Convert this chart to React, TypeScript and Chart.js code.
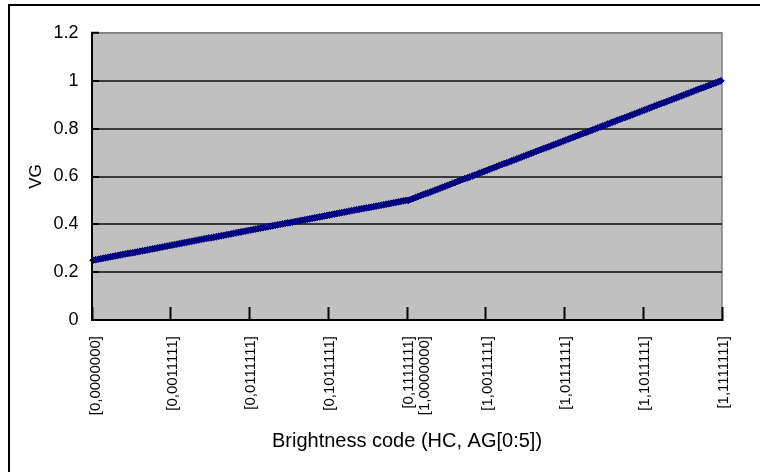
import React, { useEffect, useRef } from 'react';
import { Chart, registerables } from 'chart.js';

Chart.register(...registerables);

// VG for HC = 0, codes [0,0000000] .. [0,1111111]
const vgHc0 = [
  0.250, 0.252, 0.254, 0.256, 0.258, 0.260, 0.262, 0.264, 0.266, 0.268, 0.270, 0.272, 0.274, 0.276, 0.278, 0.280,
  0.281, 0.283, 0.285, 0.287, 0.289, 0.291, 0.293, 0.295, 0.297, 0.299, 0.301, 0.303, 0.305, 0.307, 0.309, 0.311,
  0.313, 0.315, 0.317, 0.319, 0.321, 0.323, 0.325, 0.327, 0.329, 0.331, 0.333, 0.335, 0.337, 0.339, 0.341, 0.343,
  0.344, 0.346, 0.348, 0.350, 0.352, 0.354, 0.356, 0.358, 0.360, 0.362, 0.364, 0.366, 0.368, 0.370, 0.372, 0.374,
  0.376, 0.378, 0.380, 0.382, 0.384, 0.386, 0.388, 0.390, 0.392, 0.394, 0.396, 0.398, 0.400, 0.402, 0.404, 0.406,
  0.407, 0.409, 0.411, 0.413, 0.415, 0.417, 0.419, 0.421, 0.423, 0.425, 0.427, 0.429, 0.431, 0.433, 0.435, 0.437,
  0.439, 0.441, 0.443, 0.445, 0.447, 0.449, 0.451, 0.453, 0.455, 0.457, 0.459, 0.461, 0.463, 0.465, 0.467, 0.469,
  0.470, 0.472, 0.474, 0.476, 0.478, 0.480, 0.482, 0.484, 0.486, 0.488, 0.490, 0.492, 0.494, 0.496, 0.498, 0.500,
];

// VG for HC = 1, codes [1,0000000] .. [1,1111111]
const vgHc1 = [
  0.500, 0.504, 0.508, 0.512, 0.516, 0.520, 0.524, 0.528, 0.531, 0.535, 0.539, 0.543, 0.547, 0.551, 0.555, 0.559,
  0.563, 0.567, 0.571, 0.575, 0.579, 0.583, 0.587, 0.591, 0.594, 0.598, 0.602, 0.606, 0.610, 0.614, 0.618, 0.622,
  0.626, 0.630, 0.634, 0.638, 0.642, 0.646, 0.650, 0.654, 0.657, 0.661, 0.665, 0.669, 0.673, 0.677, 0.681, 0.685,
  0.689, 0.693, 0.697, 0.701, 0.705, 0.709, 0.713, 0.717, 0.720, 0.724, 0.728, 0.732, 0.736, 0.740, 0.744, 0.748,
  0.752, 0.756, 0.760, 0.764, 0.768, 0.772, 0.776, 0.780, 0.783, 0.787, 0.791, 0.795, 0.799, 0.803, 0.807, 0.811,
  0.815, 0.819, 0.823, 0.827, 0.831, 0.835, 0.839, 0.843, 0.846, 0.850, 0.854, 0.858, 0.862, 0.866, 0.870, 0.874,
  0.878, 0.882, 0.886, 0.890, 0.894, 0.898, 0.902, 0.906, 0.909, 0.913, 0.917, 0.921, 0.925, 0.929, 0.933, 0.937,
  0.941, 0.945, 0.949, 0.953, 0.957, 0.961, 0.965, 0.969, 0.972, 0.976, 0.980, 0.984, 0.988, 0.992, 0.996, 1.000,
];

// Category codes [HC,AG bits]
const hcValues = [0, 1];
const agCodeCount = 128;
const categories: string[] = hcValues.flatMap((hc) =>
  Array.from({ length: agCodeCount }, (_, ag) => `[${hc},${ag.toString(2).padStart(7, '0')}]`)
);

// Which categories get a visible label
const xTickIndices = [0, 31, 63, 95, 127, 159, 191, 223, 255];
const xTickLabels: (string | string[])[] = [
  '[0,0000000]',
  '[0,0011111]',
  '[0,0111111]',
  '[0,1011111]',
  ['[0,1111111]', '[1,0000000]'],
  '[1,0011111]',
  '[1,0111111]',
  '[1,1011111]',
  '[1,1111111]',
];

const yMin = 0;
const yMax = 1.2;
const yStep = 0.2;

const xTitle = 'Brightness code (HC, AG[0:5])';
const yTitle = 'VG';

const FONT = '"Liberation Sans", Arial, sans-serif';

const plotBackground = {
  id: 'plotBackground',
  beforeDraw(chart: any) {
    const { ctx, chartArea: a } = chart;
    ctx.save();
    ctx.fillStyle = '#c0c0c0';
    ctx.fillRect(a.left, a.top, a.right - a.left, a.bottom - a.top);
    ctx.strokeStyle = '#808080';
    ctx.lineWidth = 1.5;
    ctx.strokeRect(a.left, a.top, a.right - a.left, a.bottom - a.top);
    ctx.restore();
  },
};

export default function App() {
  const canvasRef = useRef<HTMLCanvasElement | null>(null);

  useEffect(() => {
    if (!canvasRef.current) return;
    const chart = new Chart(canvasRef.current, {
      type: 'line',
      data: {
        labels: categories,
        datasets: [
          {
            label: 'VG',
            data: [...vgHc0, ...vgHc1],
            borderColor: '#000080',
            backgroundColor: '#000080',
            borderWidth: 2,
            pointStyle: 'rectRot',
            pointRadius: 3.4,
            pointBorderWidth: 1,
            pointBackgroundColor: '#000080',
            pointBorderColor: '#000080',
            tension: 0,
            clip: false as any,
          },
        ],
      },
      options: {
        responsive: false,
        animation: false,
        layout: { padding: { left: 0, top: 33, right: 38, bottom: 0 } },
        plugins: {
          legend: { display: false },
          tooltip: { enabled: false },
        },
        scales: {
          x: {
            type: 'category',
            offset: true,
            grid: {
              display: true,
              offset: true,
              drawOnChartArea: false,
              drawTicks: true,
              tickLength: -13,
              tickWidth: 2,
              tickColor: (c: any) =>
                c.index === undefined || c.index % 32 === 0 ? '#000' : 'rgba(0,0,0,0)',
            },
            border: { display: true, color: '#000', width: 2, z: 1 },
            ticks: {
              autoSkip: false,
              maxRotation: 90,
              minRotation: 90,
              padding: 29,
              labelOffset: 3,
              color: '#000',
              font: { family: FONT, size: 15, lineHeight: 1.1 },
              callback: (_v: any, index: number) => {
                const k = xTickIndices.indexOf(index);
                return k >= 0 ? xTickLabels[k] : '';
              },
            },
            title: {
              display: true,
              text: xTitle,
              color: '#000',
              font: { family: FONT, size: 20, lineHeight: 1.2 },
              padding: { top: 0, bottom: 19 },
            },
            afterFit: (s: any) => {
              s.height = 152;
              s.paddingLeft = 0;
              s.paddingRight = 0;
            },
          },
          y: {
            type: 'linear',
            min: yMin,
            max: yMax,
            grid: {
              color: (c: any) => {
                const v = c.tick ? c.tick.value : 0;
                if (Math.abs(v - yMin) < 1e-9) return 'rgba(0,0,0,0)';
                if (Math.abs(v - yMax) < 1e-9) return '#808080';
                return '#3a3a3a';
              },
              lineWidth: (c: any) => {
                const v = c.tick ? c.tick.value : 0;
                return Math.abs(v - yMax) < 1e-9 ? 1.5 : 2;
              },
              drawTicks: true,
              tickLength: -7,
              tickWidth: 2,
              tickColor: '#000',
            },
            border: { display: true, color: '#000', width: 2, z: 1 },
            ticks: {
              stepSize: yStep,
              padding: 20.5,
              color: '#000',
              font: { family: FONT, size: 18 },
              callback: (v: any) => {
                const n = Number(v);
                return Math.abs(n - Math.round(n)) < 1e-9 ? String(Math.round(n)) : n.toFixed(1);
              },
            },
            title: {
              display: true,
              text: yTitle,
              color: '#000',
              font: { family: FONT, size: 17, lineHeight: 1.2 },
              padding: { top: 26, bottom: 0 },
            },
            afterFit: (s: any) => {
              s.width = 92;
            },
          },
        },
      },
      plugins: [plotBackground],
    });
    return () => chart.destroy();
  }, []);

  return (
    <div
      style={{
        position: 'absolute',
        left: 0,
        top: 0,
        width: 760,
        height: 472,
        overflow: 'hidden',
        background: '#fff',
      }}
    >
      <canvas ref={canvasRef} width={760} height={472} style={{ position: 'absolute', left: 0, top: 0 }} />
      <div
        style={{
          position: 'absolute',
          left: 8,
          top: 4,
          width: 1000,
          height: 1000,
          borderLeft: '2px solid #000',
          borderTop: '2px solid #000',
          pointerEvents: 'none',
        }}
      />
    </div>
  );
}
